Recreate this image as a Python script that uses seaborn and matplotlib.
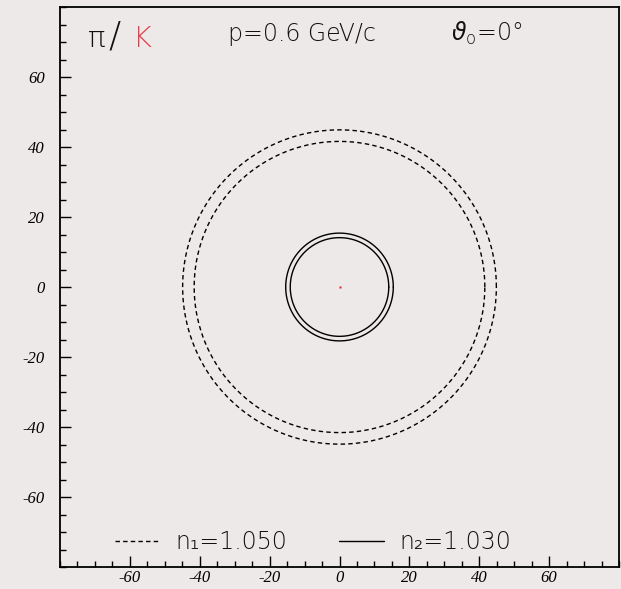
import numpy as np
import pandas as pd
import matplotlib
matplotlib.use("Agg")
import matplotlib.pyplot as plt
from matplotlib.ticker import MultipleLocator
from matplotlib.lines import Line2D
import seaborn as sns

# Ring radii (same units as the axes) for the two radiator indices
ring_radii = [44.9, 41.6, 15.4, 14.1]
ring_group = ["n1_outer", "n1_inner", "n2_outer", "n2_inner"]
ring_style = ["dashed", "dashed", "solid", "solid"]
legend_labels = ["n₁=1.050", "n₂=1.030"]

x_ticks = [-60, -40, -20, 0, 20, 40, 60]
y_ticks = [-60, -40, -20, 0, 20, 40, 60]

bg = "#ece9e8"
ink = "#111111"

sns.set_theme(style="ticks")
plt.rcParams.update({
    "font.family": ["DejaVu Sans"],
    "axes.unicode_minus": False,
    "mathtext.fontset": "dejavusans",
    "figure.facecolor": bg,
    "axes.facecolor": bg,
    "savefig.facecolor": bg,
})

fig = plt.figure(figsize=(6.21, 5.89), dpi=100)
ax = fig.add_axes([60 / 621, 22 / 589, 559 / 621, 560 / 589])

theta = np.linspace(0, 2 * np.pi, 721)
frames = []
for g, r, s in zip(ring_group, ring_radii, ring_style):
    frames.append(pd.DataFrame({"x": r * np.cos(theta), "y": r * np.sin(theta),
                                "ring": g, "style": s}))
df = pd.concat(frames, ignore_index=True)

dash = (0, (3.2, 2.3))
for g, s in zip(ring_group, ring_style):
    sub = df[df["ring"] == g]
    sns.lineplot(data=sub, x="x", y="y", sort=False, estimator=None, ax=ax,
                 color="black", lw=1.0,
                 linestyle=dash if s == "dashed" else "-", legend=False)

# centre mark
ax.plot([0], [0], marker="s", ms=1.6, mec="none", color="#e8202a")

ax.set_xlim(-80, 80)
ax.set_ylim(-80, 80)
ax.set_xlabel("")
ax.set_ylabel("")
ax.set_xticks(x_ticks)
ax.set_yticks(y_ticks)
ax.xaxis.set_minor_locator(MultipleLocator(5))
ax.yaxis.set_minor_locator(MultipleLocator(5))
ax.tick_params(which="major", direction="in", length=7.7, width=1.0,
               color="black", top=False, right=False)
ax.tick_params(which="minor", direction="in", length=4.1, width=1.0,
               color="black", top=False, right=False)
ax.tick_params(axis="y", which="major", pad=11)
ax.tick_params(axis="x", which="major", pad=2)
for lab in ax.get_xticklabels() + ax.get_yticklabels():
    lab.set_fontfamily("Liberation Serif")
    lab.set_fontstyle("italic")
    lab.set_fontsize(12)
    lab.set_color("black")
for sp in ax.spines.values():
    sp.set_visible(True)
    sp.set_color("black")
    sp.set_linewidth(1.3)

# header text
tkw = dict(color=ink, va="baseline", ha="left", fontweight="light")
ax.text(-72.0, 68.6, "π", fontsize=21, **tkw)
ax.text(-66.0, 68.6, "/", fontsize=26, **tkw)
ax.text(-59.2, 68.6, "K", fontsize=21, **{**tkw, "color": "#e8404a"})
ax.text(-32.0, 70.2, "p=0.6 GeV/c", fontsize=17, **tkw)
ax.text(32.0, 70.2, r"$\vartheta_{\mathregular{o}}$=0°", fontsize=17, **tkw)

handles = [Line2D([], [], color="black", lw=1.0, linestyle=dash),
           Line2D([], [], color="black", lw=1.0, linestyle="-")]
leg = ax.legend(handles, legend_labels, loc="center", bbox_to_anchor=(0.453, 0.045),
                ncol=2, frameon=False, handlelength=1.9,
                handletextpad=0.65, columnspacing=2.2,
                prop={"size": 17, "weight": "light"})
for t in leg.get_texts():
    t.set_color(ink)

fig.savefig("out.png", dpi=100)
